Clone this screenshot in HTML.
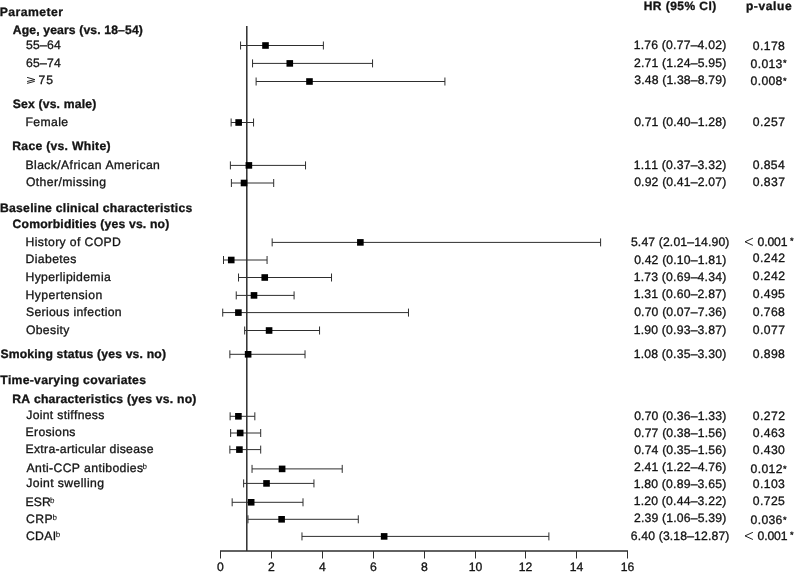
<!DOCTYPE html>
<html><head><meta charset="utf-8"><style>
html,body{margin:0;padding:0;background:#fff;}
body{width:794px;height:572px;overflow:hidden;}
svg{display:block;will-change:transform;font-kerning:none;text-rendering:geometricPrecision;font-family:"Liberation Sans",sans-serif;}
text{fill:#141414;stroke:#141414;stroke-width:0.32px;}
</style></head><body>
<svg width="794" height="572" viewBox="0 0 794 572">
<rect width="794" height="572" fill="#fff"/>
<line x1="246.8" y1="26" x2="246.8" y2="551.0" stroke="#2e2e2e" stroke-width="1.5"/>
<line x1="220.00" y1="551.0" x2="628.00" y2="551.0" stroke="#2e2e2e" stroke-width="1.5"/>
<line x1="220.5" y1="551.0" x2="220.5" y2="558.5" stroke="#2e2e2e" stroke-width="1"/>
<line x1="271.5" y1="551.0" x2="271.5" y2="558.5" stroke="#2e2e2e" stroke-width="1"/>
<line x1="322.5" y1="551.0" x2="322.5" y2="558.5" stroke="#2e2e2e" stroke-width="1"/>
<line x1="373.5" y1="551.0" x2="373.5" y2="558.5" stroke="#2e2e2e" stroke-width="1"/>
<line x1="424.5" y1="551.0" x2="424.5" y2="558.5" stroke="#2e2e2e" stroke-width="1"/>
<line x1="475.5" y1="551.0" x2="475.5" y2="558.5" stroke="#2e2e2e" stroke-width="1"/>
<line x1="525.5" y1="551.0" x2="525.5" y2="558.5" stroke="#2e2e2e" stroke-width="1"/>
<line x1="576.5" y1="551.0" x2="576.5" y2="558.5" stroke="#2e2e2e" stroke-width="1"/>
<line x1="627.5" y1="551.0" x2="627.5" y2="558.5" stroke="#2e2e2e" stroke-width="1"/>
<line x1="240.57" y1="45.5" x2="323.38" y2="45.5" stroke="#2e2e2e" stroke-width="1"/>
<line x1="240.57" y1="41.50" x2="240.57" y2="49.50" stroke="#2e2e2e" stroke-width="1"/>
<line x1="323.38" y1="41.50" x2="323.38" y2="49.50" stroke="#2e2e2e" stroke-width="1"/>
<rect x="262.20" y="42.20" width="6.6" height="6.6" fill="#000"/>
<line x1="252.55" y1="63.4" x2="372.56" y2="63.4" stroke="#2e2e2e" stroke-width="1"/>
<line x1="252.55" y1="59.40" x2="252.55" y2="67.40" stroke="#2e2e2e" stroke-width="1"/>
<line x1="372.56" y1="59.40" x2="372.56" y2="67.40" stroke="#2e2e2e" stroke-width="1"/>
<rect x="286.49" y="60.10" width="6.6" height="6.6" fill="#000"/>
<line x1="256.11" y1="81.5" x2="444.92" y2="81.5" stroke="#2e2e2e" stroke-width="1"/>
<line x1="256.11" y1="77.50" x2="256.11" y2="85.50" stroke="#2e2e2e" stroke-width="1"/>
<line x1="444.92" y1="77.50" x2="444.92" y2="85.50" stroke="#2e2e2e" stroke-width="1"/>
<rect x="306.18" y="78.20" width="6.6" height="6.6" fill="#000"/>
<line x1="231.14" y1="122.5" x2="253.56" y2="122.5" stroke="#2e2e2e" stroke-width="1"/>
<line x1="231.14" y1="118.50" x2="231.14" y2="126.50" stroke="#2e2e2e" stroke-width="1"/>
<line x1="253.56" y1="118.50" x2="253.56" y2="126.50" stroke="#2e2e2e" stroke-width="1"/>
<rect x="235.35" y="119.20" width="6.6" height="6.6" fill="#000"/>
<line x1="230.38" y1="165.4" x2="305.54" y2="165.4" stroke="#2e2e2e" stroke-width="1"/>
<line x1="230.38" y1="161.40" x2="230.38" y2="169.40" stroke="#2e2e2e" stroke-width="1"/>
<line x1="305.54" y1="161.40" x2="305.54" y2="169.40" stroke="#2e2e2e" stroke-width="1"/>
<rect x="245.58" y="162.10" width="6.6" height="6.6" fill="#000"/>
<line x1="231.4" y1="183.0" x2="273.69" y2="183.0" stroke="#2e2e2e" stroke-width="1"/>
<line x1="231.4" y1="179.00" x2="231.4" y2="187.00" stroke="#2e2e2e" stroke-width="1"/>
<line x1="273.69" y1="179.00" x2="273.69" y2="187.00" stroke="#2e2e2e" stroke-width="1"/>
<rect x="240.72" y="179.70" width="6.6" height="6.6" fill="#000"/>
<line x1="272.16" y1="242.4" x2="600.6" y2="242.4" stroke="#2e2e2e" stroke-width="1"/>
<line x1="272.16" y1="238.40" x2="272.16" y2="246.40" stroke="#2e2e2e" stroke-width="1"/>
<line x1="600.6" y1="238.40" x2="600.6" y2="246.40" stroke="#2e2e2e" stroke-width="1"/>
<rect x="357.07" y="239.10" width="6.6" height="6.6" fill="#000"/>
<line x1="223.5" y1="260.0" x2="267.07" y2="260.0" stroke="#2e2e2e" stroke-width="1"/>
<line x1="223.5" y1="256.00" x2="223.5" y2="264.00" stroke="#2e2e2e" stroke-width="1"/>
<line x1="267.07" y1="256.00" x2="267.07" y2="264.00" stroke="#2e2e2e" stroke-width="1"/>
<rect x="227.94" y="256.70" width="6.6" height="6.6" fill="#000"/>
<line x1="238.53" y1="277.5" x2="331.53" y2="277.5" stroke="#2e2e2e" stroke-width="1"/>
<line x1="238.53" y1="273.50" x2="238.53" y2="281.50" stroke="#2e2e2e" stroke-width="1"/>
<line x1="331.53" y1="273.50" x2="331.53" y2="281.50" stroke="#2e2e2e" stroke-width="1"/>
<rect x="261.44" y="274.20" width="6.6" height="6.6" fill="#000"/>
<line x1="236.24" y1="295.4" x2="294.08" y2="295.4" stroke="#2e2e2e" stroke-width="1"/>
<line x1="236.24" y1="291.40" x2="236.24" y2="299.40" stroke="#2e2e2e" stroke-width="1"/>
<line x1="294.08" y1="291.40" x2="294.08" y2="299.40" stroke="#2e2e2e" stroke-width="1"/>
<rect x="250.70" y="292.10" width="6.6" height="6.6" fill="#000"/>
<line x1="222.73" y1="312.6" x2="408.48" y2="312.6" stroke="#2e2e2e" stroke-width="1"/>
<line x1="222.73" y1="308.60" x2="222.73" y2="316.60" stroke="#2e2e2e" stroke-width="1"/>
<line x1="408.48" y1="308.60" x2="408.48" y2="316.60" stroke="#2e2e2e" stroke-width="1"/>
<rect x="235.10" y="309.30" width="6.6" height="6.6" fill="#000"/>
<line x1="244.65" y1="330.5" x2="319.56" y2="330.5" stroke="#2e2e2e" stroke-width="1"/>
<line x1="244.65" y1="326.50" x2="244.65" y2="334.50" stroke="#2e2e2e" stroke-width="1"/>
<line x1="319.56" y1="326.50" x2="319.56" y2="334.50" stroke="#2e2e2e" stroke-width="1"/>
<rect x="265.78" y="327.20" width="6.6" height="6.6" fill="#000"/>
<line x1="229.87" y1="354.3" x2="305.03" y2="354.3" stroke="#2e2e2e" stroke-width="1"/>
<line x1="229.87" y1="350.30" x2="229.87" y2="358.30" stroke="#2e2e2e" stroke-width="1"/>
<line x1="305.03" y1="350.30" x2="305.03" y2="358.30" stroke="#2e2e2e" stroke-width="1"/>
<rect x="244.82" y="351.00" width="6.6" height="6.6" fill="#000"/>
<line x1="230.12" y1="416.3" x2="254.84" y2="416.3" stroke="#2e2e2e" stroke-width="1"/>
<line x1="230.12" y1="412.30" x2="230.12" y2="420.30" stroke="#2e2e2e" stroke-width="1"/>
<line x1="254.84" y1="412.30" x2="254.84" y2="420.30" stroke="#2e2e2e" stroke-width="1"/>
<rect x="235.10" y="413.00" width="6.6" height="6.6" fill="#000"/>
<line x1="230.63" y1="433.0" x2="260.7" y2="433.0" stroke="#2e2e2e" stroke-width="1"/>
<line x1="230.63" y1="429.00" x2="230.63" y2="437.00" stroke="#2e2e2e" stroke-width="1"/>
<line x1="260.7" y1="429.00" x2="260.7" y2="437.00" stroke="#2e2e2e" stroke-width="1"/>
<rect x="236.89" y="429.70" width="6.6" height="6.6" fill="#000"/>
<line x1="229.87" y1="449.6" x2="260.7" y2="449.6" stroke="#2e2e2e" stroke-width="1"/>
<line x1="229.87" y1="445.60" x2="229.87" y2="453.60" stroke="#2e2e2e" stroke-width="1"/>
<line x1="260.7" y1="445.60" x2="260.7" y2="453.60" stroke="#2e2e2e" stroke-width="1"/>
<rect x="236.12" y="446.30" width="6.6" height="6.6" fill="#000"/>
<line x1="252.04" y1="468.9" x2="342.23" y2="468.9" stroke="#2e2e2e" stroke-width="1"/>
<line x1="252.04" y1="464.90" x2="252.04" y2="472.90" stroke="#2e2e2e" stroke-width="1"/>
<line x1="342.23" y1="464.90" x2="342.23" y2="472.90" stroke="#2e2e2e" stroke-width="1"/>
<rect x="278.82" y="465.60" width="6.6" height="6.6" fill="#000"/>
<line x1="243.63" y1="483.4" x2="313.95" y2="483.4" stroke="#2e2e2e" stroke-width="1"/>
<line x1="243.63" y1="479.40" x2="243.63" y2="487.40" stroke="#2e2e2e" stroke-width="1"/>
<line x1="313.95" y1="479.40" x2="313.95" y2="487.40" stroke="#2e2e2e" stroke-width="1"/>
<rect x="263.23" y="480.10" width="6.6" height="6.6" fill="#000"/>
<line x1="232.16" y1="502.3" x2="303.0" y2="502.3" stroke="#2e2e2e" stroke-width="1"/>
<line x1="232.16" y1="498.30" x2="232.16" y2="506.30" stroke="#2e2e2e" stroke-width="1"/>
<line x1="303.0" y1="498.30" x2="303.0" y2="506.30" stroke="#2e2e2e" stroke-width="1"/>
<rect x="247.88" y="499.00" width="6.6" height="6.6" fill="#000"/>
<line x1="247.96" y1="519.3" x2="358.29" y2="519.3" stroke="#2e2e2e" stroke-width="1"/>
<line x1="247.96" y1="515.30" x2="247.96" y2="523.30" stroke="#2e2e2e" stroke-width="1"/>
<line x1="358.29" y1="515.30" x2="358.29" y2="523.30" stroke="#2e2e2e" stroke-width="1"/>
<rect x="278.31" y="516.00" width="6.6" height="6.6" fill="#000"/>
<line x1="301.98" y1="536.4" x2="548.88" y2="536.4" stroke="#2e2e2e" stroke-width="1"/>
<line x1="301.98" y1="532.40" x2="301.98" y2="540.40" stroke="#2e2e2e" stroke-width="1"/>
<line x1="548.88" y1="532.40" x2="548.88" y2="540.40" stroke="#2e2e2e" stroke-width="1"/>
<rect x="380.85" y="533.10" width="6.6" height="6.6" fill="#000"/>
<text x="-0.32" y="15.60" font-size="12.2" font-weight="bold" letter-spacing="0.465">Parameter</text>
<text x="12.80" y="34.20" font-size="12.2" font-weight="bold" letter-spacing="0.129">Age, years (vs. 18–54)</text>
<text x="26.01" y="49.10" font-size="12.2" font-weight="normal" letter-spacing="0.230">55–64</text>
<text x="25.88" y="66.90" font-size="12.2" font-weight="normal" letter-spacing="0.263">65–74</text>
<text x="38.47" y="84.45" font-size="12.2" font-weight="normal" letter-spacing="1.068">75</text>
<text x="12.75" y="108.20" font-size="12.2" font-weight="bold" letter-spacing="0.168">Sex (vs. male)</text>
<text x="25.50" y="125.50" font-size="12.2" font-weight="normal" letter-spacing="0.372">Female</text>
<text x="12.28" y="150.40" font-size="12.2" font-weight="bold" letter-spacing="0.273">Race (vs. White)</text>
<text x="25.50" y="168.50" font-size="12.2" font-weight="normal" letter-spacing="0.399">Black/African American</text>
<text x="25.92" y="186.20" font-size="12.2" font-weight="normal" letter-spacing="0.409">Other/missing</text>
<text x="-0.02" y="211.60" font-size="12.2" font-weight="bold" letter-spacing="0.252">Baseline clinical characteristics</text>
<text x="12.60" y="228.00" font-size="12.2" font-weight="bold" letter-spacing="0.171">Comorbidities (yes vs. no)</text>
<text x="25.50" y="245.60" font-size="12.2" font-weight="normal" letter-spacing="0.380">History of COPD</text>
<text x="25.50" y="263.20" font-size="12.2" font-weight="normal" letter-spacing="0.399">Diabetes</text>
<text x="25.50" y="280.70" font-size="12.2" font-weight="normal" letter-spacing="0.355">Hyperlipidemia</text>
<text x="25.50" y="298.50" font-size="12.2" font-weight="normal" letter-spacing="0.446">Hypertension</text>
<text x="25.95" y="316.20" font-size="12.2" font-weight="normal" letter-spacing="0.347">Serious infection</text>
<text x="25.92" y="333.80" font-size="12.2" font-weight="normal" letter-spacing="0.340">Obesity</text>
<text x="0.45" y="357.70" font-size="12.2" font-weight="bold" letter-spacing="0.166">Smoking status (yes vs. no)</text>
<text x="0.16" y="384.20" font-size="12.2" font-weight="bold" letter-spacing="0.284">Time-varying covariates</text>
<text x="12.28" y="402.90" font-size="12.2" font-weight="bold" letter-spacing="0.222">RA characteristics (yes vs. no)</text>
<text x="26.31" y="419.30" font-size="12.2" font-weight="normal" letter-spacing="0.302">Joint stiffness</text>
<text x="25.50" y="436.40" font-size="12.2" font-weight="normal" letter-spacing="0.354">Erosions</text>
<text x="25.50" y="453.30" font-size="12.2" font-weight="normal" letter-spacing="0.303">Extra-articular disease</text>
<text x="26.48" y="471.80" font-size="12.2" font-weight="normal" letter-spacing="0.384">Anti-CCP antibodies</text>
<text x="142.48" y="469.00" font-size="8.0" style="stroke-width:0.1px">b</text>
<text x="26.31" y="486.70" font-size="12.2" font-weight="normal" letter-spacing="0.402">Joint swelling</text>
<text x="25.60" y="505.60" font-size="12.2" font-weight="normal" letter-spacing="0.041">ESR</text>
<text x="50.08" y="502.60" font-size="8.0" style="stroke-width:0.1px">b</text>
<text x="25.98" y="522.65" font-size="12.2" font-weight="normal" letter-spacing="0.502">CRP</text>
<text x="52.48" y="519.65" font-size="8.0" style="stroke-width:0.1px">b</text>
<text x="25.98" y="539.75" font-size="12.2" font-weight="normal" letter-spacing="0.333">CDAI</text>
<text x="55.68" y="536.75" font-size="8.0" style="stroke-width:0.1px">b</text>
<path d="M27.1,77.4 L34.8,79.6 L27.1,81.5 M34.8,81.3 L27.1,83.4" stroke="#141414" stroke-width="0.95" fill="none"/>
<text x="220.50" y="571.2" font-size="12.2" text-anchor="middle">0</text>
<text x="271.50" y="571.2" font-size="12.2" text-anchor="middle">2</text>
<text x="322.50" y="571.2" font-size="12.2" text-anchor="middle">4</text>
<text x="373.50" y="571.2" font-size="12.2" text-anchor="middle">6</text>
<text x="424.50" y="571.2" font-size="12.2" text-anchor="middle">8</text>
<text x="475.50" y="571.2" font-size="12.2" text-anchor="middle">10</text>
<text x="525.50" y="571.2" font-size="12.2" text-anchor="middle">12</text>
<text x="576.50" y="571.2" font-size="12.2" text-anchor="middle">14</text>
<text x="627.50" y="571.2" font-size="12.2" text-anchor="middle">16</text>
<text x="643.70" y="9.90" font-size="12.0" font-weight="bold" letter-spacing="0.459">HR (95% CI)</text>
<text x="745.91" y="9.90" font-size="12.0" font-weight="bold" letter-spacing="0.615">p-value</text>
<text x="633.72" y="49.30" font-size="12.2" font-weight="normal" letter-spacing="0.203">1.76 (0.77–4.02)</text>
<text x="752.82" y="49.50" font-size="12.2" font-weight="normal" letter-spacing="0.394">0.178</text>
<text x="634.04" y="66.70" font-size="12.2" font-weight="normal" letter-spacing="0.182">2.71 (1.24–5.95)</text>
<text x="750.62" y="67.70" font-size="12.2" font-weight="normal" letter-spacing="0.321">0.013</text>
<text x="783.00" y="66.20" font-size="9.2">*</text>
<text x="634.19" y="84.30" font-size="12.2" font-weight="normal" letter-spacing="0.172">3.48 (1.38–8.79)</text>
<text x="750.62" y="85.20" font-size="12.2" font-weight="normal" letter-spacing="0.319">0.008</text>
<text x="783.00" y="83.70" font-size="9.2">*</text>
<text x="634.17" y="125.50" font-size="12.2" font-weight="normal" letter-spacing="0.173">0.71 (0.40–1.28)</text>
<text x="752.82" y="125.70" font-size="12.2" font-weight="normal" letter-spacing="0.415">0.257</text>
<text x="633.72" y="168.90" font-size="12.2" font-weight="normal" letter-spacing="0.203">1.11 (0.37–3.32)</text>
<text x="752.82" y="169.10" font-size="12.2" font-weight="normal" letter-spacing="0.351">0.854</text>
<text x="634.17" y="186.20" font-size="12.2" font-weight="normal" letter-spacing="0.173">0.92 (0.41–2.07)</text>
<text x="752.82" y="186.40" font-size="12.2" font-weight="normal" letter-spacing="0.415">0.837</text>
<text x="630.96" y="245.80" font-size="12.2" font-weight="normal" letter-spacing="0.139">5.47 (2.01–14.90)</text>
<path d="M752.9,238.20 L745.0,241.80 L752.9,245.40" stroke="#141414" stroke-width="0.95" fill="none"/>
<text x="757.52" y="245.80" font-size="12.2" font-weight="normal" letter-spacing="-0.139">0.001</text>
<text x="790.00" y="244.00" font-size="9.2">*</text>
<text x="634.17" y="263.70" font-size="12.2" font-weight="normal" letter-spacing="0.173">0.42 (0.10–1.81)</text>
<text x="752.82" y="261.70" font-size="12.2" font-weight="normal" letter-spacing="0.415">0.242</text>
<text x="633.72" y="280.90" font-size="12.2" font-weight="normal" letter-spacing="0.203">1.73 (0.69–4.34)</text>
<text x="752.82" y="279.90" font-size="12.2" font-weight="normal" letter-spacing="0.415">0.242</text>
<text x="633.72" y="298.20" font-size="12.2" font-weight="normal" letter-spacing="0.203">1.31 (0.60–2.87)</text>
<text x="752.82" y="297.80" font-size="12.2" font-weight="normal" letter-spacing="0.390">0.495</text>
<text x="634.17" y="315.80" font-size="12.2" font-weight="normal" letter-spacing="0.173">0.70 (0.07–7.36)</text>
<text x="752.82" y="315.90" font-size="12.2" font-weight="normal" letter-spacing="0.394">0.768</text>
<text x="633.72" y="333.90" font-size="12.2" font-weight="normal" letter-spacing="0.203">1.90 (0.93–3.87)</text>
<text x="752.82" y="333.90" font-size="12.2" font-weight="normal" letter-spacing="0.415">0.077</text>
<text x="633.72" y="358.20" font-size="12.2" font-weight="normal" letter-spacing="0.203">1.08 (0.35–3.30)</text>
<text x="752.82" y="358.30" font-size="12.2" font-weight="normal" letter-spacing="0.394">0.898</text>
<text x="634.17" y="419.80" font-size="12.2" font-weight="normal" letter-spacing="0.173">0.70 (0.36–1.33)</text>
<text x="752.82" y="420.00" font-size="12.2" font-weight="normal" letter-spacing="0.415">0.272</text>
<text x="634.17" y="436.80" font-size="12.2" font-weight="normal" letter-spacing="0.173">0.77 (0.38–1.56)</text>
<text x="752.82" y="437.00" font-size="12.2" font-weight="normal" letter-spacing="0.396">0.463</text>
<text x="634.17" y="453.90" font-size="12.2" font-weight="normal" letter-spacing="0.173">0.74 (0.35–1.56)</text>
<text x="752.82" y="454.10" font-size="12.2" font-weight="normal" letter-spacing="0.381">0.430</text>
<text x="634.04" y="471.20" font-size="12.2" font-weight="normal" letter-spacing="0.182">2.41 (1.22–4.76)</text>
<text x="750.62" y="473.40" font-size="12.2" font-weight="normal" letter-spacing="0.340">0.012</text>
<text x="783.00" y="471.90" font-size="9.2">*</text>
<text x="633.72" y="488.10" font-size="12.2" font-weight="normal" letter-spacing="0.203">1.80 (0.89–3.65)</text>
<text x="752.82" y="488.30" font-size="12.2" font-weight="normal" letter-spacing="0.396">0.103</text>
<text x="633.72" y="505.20" font-size="12.2" font-weight="normal" letter-spacing="0.203">1.20 (0.44–3.22)</text>
<text x="752.82" y="505.40" font-size="12.2" font-weight="normal" letter-spacing="0.390">0.725</text>
<text x="634.04" y="522.10" font-size="12.2" font-weight="normal" letter-spacing="0.182">2.39 (1.06–5.39)</text>
<text x="750.62" y="524.40" font-size="12.2" font-weight="normal" letter-spacing="0.321">0.036</text>
<text x="783.00" y="522.90" font-size="9.2">*</text>
<text x="630.83" y="540.20" font-size="12.2" font-weight="normal" letter-spacing="0.147">6.40 (3.18–12.87)</text>
<path d="M752.9,532.30 L745.0,535.90 L752.9,539.50" stroke="#141414" stroke-width="0.95" fill="none"/>
<text x="757.52" y="539.90" font-size="12.2" font-weight="normal" letter-spacing="-0.139">0.001</text>
<text x="790.00" y="538.10" font-size="9.2">*</text>
</svg>
</body></html>
